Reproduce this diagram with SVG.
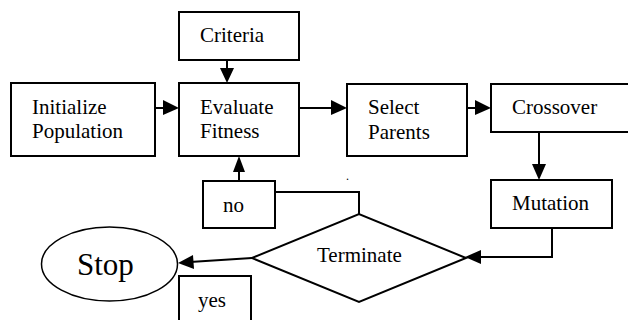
<svg xmlns="http://www.w3.org/2000/svg" width="628" height="320" viewBox="0 0 628 320">
<defs>
<style>
.box{fill:#fff;stroke:#000;stroke-width:2}
.c{fill:none;stroke:#000;stroke-width:2}
.h{fill:#000;stroke:none}
</style>
</defs>
<rect width="628" height="320" fill="#fff"/>
<g id="connectors">
<line class="c" x1="227" y1="60" x2="227" y2="70"/>
<polygon class="h" points="220,68 234,68 227,83"/>
<line class="c" x1="155" y1="108" x2="165" y2="108"/>
<polygon class="h" points="163,100 163,115 179,108"/>
<line class="c" x1="299" y1="108" x2="333" y2="108"/>
<polygon class="h" points="331,100 331,115 347,108"/>
<line class="c" x1="467" y1="108" x2="477" y2="108"/>
<polygon class="h" points="475,100 475,115 491,108"/>
<line class="c" x1="539" y1="132" x2="539" y2="166"/>
<polygon class="h" points="532,164 546,164 539,180"/>
<polyline class="c" points="552,228 552,257 478,257"/>
<polygon class="h" points="481,250 481,264 465,257"/>
<polyline class="c" points="275,192 359,192 359,214"/>
<line class="c" x1="239" y1="181" x2="239" y2="170"/>
<polygon class="h" points="233,172 245,172 239,156"/>
<line class="c" x1="252" y1="258" x2="190" y2="262"/>
<polygon class="h" points="193,255 194,269 178,263"/>
</g>
<g font-family="Liberation Serif, Times New Roman, serif" font-size="21" fill="#000">
<g id="criteria"><rect class="box" x="179" y="12" width="120" height="48"/><text x="200" y="42" font-family="Liberation Serif, serif">Criteria</text></g>
<g id="initialize"><rect class="box" x="11" y="83" width="144" height="73"/><text x="32" y="114" font-family="Liberation Serif, serif">Initialize</text><text x="32" y="138" font-family="Liberation Serif, serif">Population</text></g>
<g id="evaluate"><rect class="box" x="179" y="83" width="120" height="73"/><text x="200" y="114" font-family="Liberation Serif, serif">Evaluate</text><text x="200" y="138" font-family="Liberation Serif, serif">Fitness</text></g>
<g id="select"><rect class="box" x="347" y="84" width="120" height="72"/><text x="368" y="114" font-family="Liberation Serif, serif">Select</text><text x="368" y="139" font-family="Liberation Serif, serif">Parents</text></g>
<g id="crossover"><rect class="box" x="491" y="84" width="150" height="48"/><text x="512" y="114" font-family="Liberation Serif, serif">Crossover</text></g>
<g id="mutation"><rect class="box" x="491" y="180" width="121" height="48"/><text x="512" y="210" font-family="Liberation Serif, serif">Mutation</text></g>
<g id="no"><rect class="box" x="203" y="181" width="72" height="47"/><text x="223" y="212" font-family="Liberation Serif, serif">no</text></g>
<g id="terminate"><polygon class="box" points="252,258 359,214 466,258 359,302"/><text x="317" y="262" font-family="Liberation Serif, serif">Terminate</text></g>
<g id="stop"><ellipse cx="109.5" cy="264" rx="68" ry="37" fill="#fff" stroke="#000" stroke-width="1.5"/><text x="77" y="275" font-size="31" font-family="Liberation Serif, serif">Stop</text></g>
<g id="yes"><rect class="box" x="179" y="276" width="72" height="60"/><text x="198" y="307" font-family="Liberation Serif, serif">yes</text></g>
<text x="346" y="180" font-size="12" font-family="Liberation Serif, serif">.</text>
</g>
</svg>
